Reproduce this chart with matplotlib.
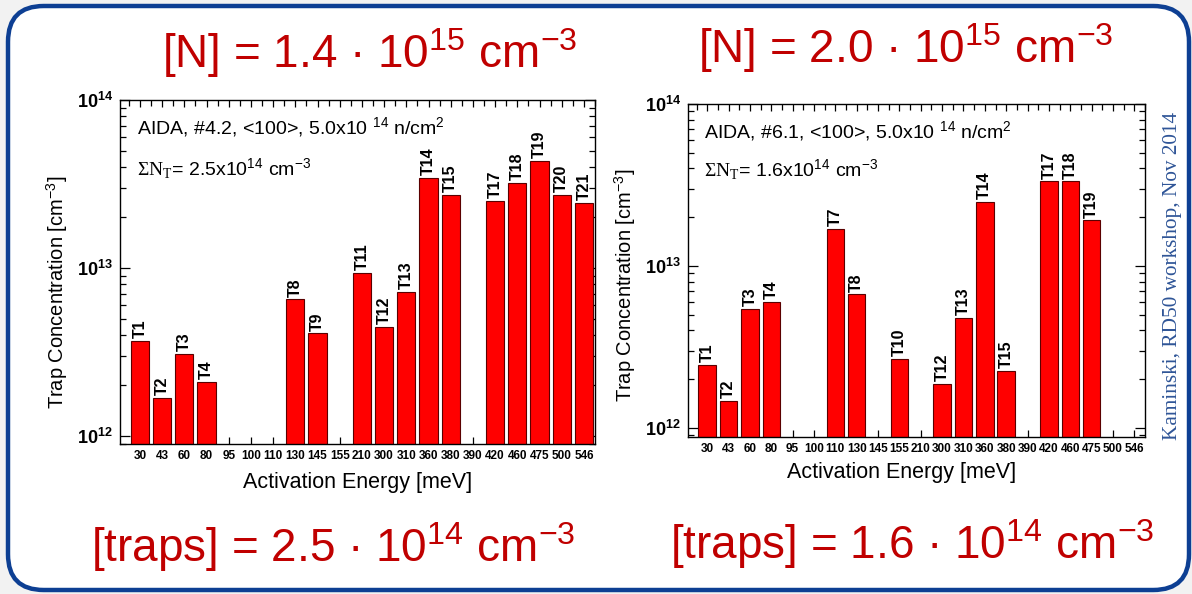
import matplotlib
matplotlib.use("Agg")
import matplotlib.pyplot as plt
from matplotlib.patches import FancyBboxPatch
from matplotlib.ticker import FixedLocator, FixedFormatter, LogLocator, NullFormatter

plt.rcParams["font.family"] = ["Liberation Sans", "DejaVu Sans"]
plt.rcParams["mathtext.fontset"] = "custom"
plt.rcParams["mathtext.rm"] = "Liberation Sans"
plt.rcParams["mathtext.it"] = "Liberation Sans:italic"
plt.rcParams["mathtext.bf"] = "Liberation Sans:bold"
plt.rcParams["mathtext.sf"] = "Liberation Serif"

# activation energy bins (meV) shared by both samples
energies = ["30", "43", "60", "80", "95", "100", "110", "130", "145", "155", "210",
            "300", "310", "360", "380", "390", "420", "460", "475", "500", "546"]

# sample #4.2
left_energy = ["30", "43", "60", "80", "130", "145", "210", "300", "310", "360",
               "380", "420", "460", "475", "500", "546"]
left_traps = ["T1", "T2", "T3", "T4", "T8", "T9", "T11", "T12", "T13", "T14",
              "T15", "T17", "T18", "T19", "T20", "T21"]
left_conc = [3.67e12, 1.69e12, 3.08e12, 2.09e12, 6.5e12, 4.08e12, 9.3e12, 4.48e12,
             7.2e12, 3.42e13, 2.72e13, 2.51e13, 3.22e13, 4.35e13, 2.72e13, 2.43e13]

# sample #6.1
right_energy = ["30", "43", "60", "80", "110", "130", "155", "300", "310", "360",
                "380", "420", "460", "475"]
right_traps = ["T1", "T2", "T3", "T4", "T7", "T8", "T10", "T12", "T13", "T14",
               "T15", "T17", "T18", "T19"]
right_conc = [2.45e12, 1.47e12, 5.46e12, 5.97e12, 1.70e13, 6.67e12, 2.66e12, 1.87e12,
              4.79e12, 2.50e13, 2.26e12, 3.33e13, 3.33e13, 1.91e13]

RED = "#c00000"
BLUE_TXT = "#2f5597"
BORDER = "#0d3f93"

fig = plt.figure(figsize=(11.92, 5.94), dpi=100, facecolor="#f2f2f2")

# rounded slide frame, kept behind the axes
frame = FancyBboxPatch((8 / 1192, 4 / 594), 1181 / 1192, 584 / 594,
                       boxstyle="round,pad=0,rounding_size=0.03",
                       mutation_aspect=1192 / 594,
                       transform=fig.transFigure, facecolor="white",
                       edgecolor=BORDER, linewidth=3.2, zorder=-10)
fig.patches.append(frame)


def draw_panel(rect, energy, traps, conc, sample, total, ylow, ylab_xy, xlab_xy, text_y):
    ax = fig.add_axes(rect)
    ax.patch.set_alpha(0)
    idx = [energies.index(e) for e in energy]
    bars = ax.bar(idx, conc, width=0.82, color="#ff0000", edgecolor="#5a0000",
                  linewidth=0.8, zorder=2)
    for b, name, v in zip(bars, traps, conc):
        ax.annotate(name, (b.get_x() + b.get_width() / 2, v), xytext=(0, 2),
                    textcoords="offset points", rotation=90, ha="center",
                    va="bottom", fontsize=11.5, fontweight="bold")

    ax.set_yscale("log")
    ax.set_ylim(ylow, 1e14)
    ax.set_xlim(-0.9, len(energies) - 0.5)

    ax.xaxis.set_major_locator(FixedLocator(range(len(energies))))
    ax.xaxis.set_major_formatter(FixedFormatter(energies))
    ax.xaxis.set_minor_locator(FixedLocator([i + 0.5 for i in range(-1, len(energies))]))
    ax.yaxis.set_major_locator(FixedLocator([1e12, 1e13, 1e14]))
    ax.yaxis.set_major_formatter(FixedFormatter([r"$\mathbf{10^{12}}$",
                                                 r"$\mathbf{10^{13}}$",
                                                 r"$\mathbf{10^{14}}$"]))
    ax.yaxis.set_minor_locator(LogLocator(base=10, subs=range(2, 10)))
    ax.yaxis.set_minor_formatter(NullFormatter())

    ax.tick_params(axis="x", which="major", direction="in", length=5, width=0.9,
                   top=True, bottom=True, pad=4, labelsize=8.5)
    ax.tick_params(axis="x", which="minor", direction="in", length=4, width=0.9,
                   top=True, bottom=False)
    ax.tick_params(axis="y", which="major", direction="in", length=7, width=0.9,
                   left=True, right=True, pad=5, labelsize=13)
    ax.tick_params(axis="y", which="minor", direction="in", length=4, width=0.9,
                   left=True, right=True)
    for lab in ax.get_xticklabels():
        lab.set_fontweight("bold")
    for sp in ax.spines.values():
        sp.set_linewidth(1.0)

    ax.set_xlabel("Activation Energy [meV]", fontsize=15.5)
    ax.set_ylabel(r"Trap Concentration [cm$^{-3}$]", fontsize=14.5)
    ax.xaxis.set_label_coords(*xlab_xy)
    ax.yaxis.set_label_coords(*ylab_xy)
    ax.xaxis.label.set_va("center")
    ax.yaxis.label.set_va("center")

    ax.text(0.035, text_y[0], "AIDA, #%s, <100>, 5.0x10 $^{14}$ n/cm$^2$" % sample,
            transform=ax.transAxes, fontsize=14, va="baseline")
    ax.text(0.035, text_y[1], r"$\mathsf{\Sigma N}_\mathsf{T}$= %sx10$^{14}$ cm$^{-3}$" % total,
            transform=ax.transAxes, fontsize=14, va="baseline")
    return ax


draw_panel([120 / 1192, 1 - 444 / 594, 475 / 1192, 344 / 594],
           left_energy, left_traps, left_conc, "4.2", "2.5", 10 ** 11.952,
           (-0.133, 0.44), (0.5, -0.113), (0.903, 0.781))
draw_panel([688 / 1192, 1 - 437 / 594, 457 / 1192, 333 / 594],
           right_energy, right_traps, right_conc, "6.1", "1.6", 10 ** 11.944,
           (-0.138, 0.456), (0.468, -0.108), (0.90, 0.784))

# doping and total trap concentrations
fig.text(370 / 1192, 1 - 68 / 594, "[N] = 1.4 · 10$^{15}$ cm$^{−3}$", color=RED,
         fontsize=33, ha="center", va="baseline")
fig.text(906 / 1192, 1 - 63 / 594, "[N] = 2.0 · 10$^{15}$ cm$^{−3}$", color=RED,
         fontsize=33, ha="center", va="baseline")
fig.text(333 / 1192, 1 - 562 / 594, "[traps] = 2.5 · 10$^{14}$ cm$^{−3}$", color=RED,
         fontsize=33, ha="center", va="baseline")
fig.text(912 / 1192, 1 - 559 / 594, "[traps] = 1.6 · 10$^{14}$ cm$^{−3}$", color=RED,
         fontsize=33, ha="center", va="baseline")

fig.text(1172 / 1192, 1 - 276 / 594, "Kaminski, RD50 workshop, Nov 2014",
         family=["Liberation Serif", "DejaVu Serif"], color=BLUE_TXT, fontsize=15.3,
         rotation=90, ha="center", va="center")

fig.savefig("out.png", dpi=100, facecolor=fig.get_facecolor())
